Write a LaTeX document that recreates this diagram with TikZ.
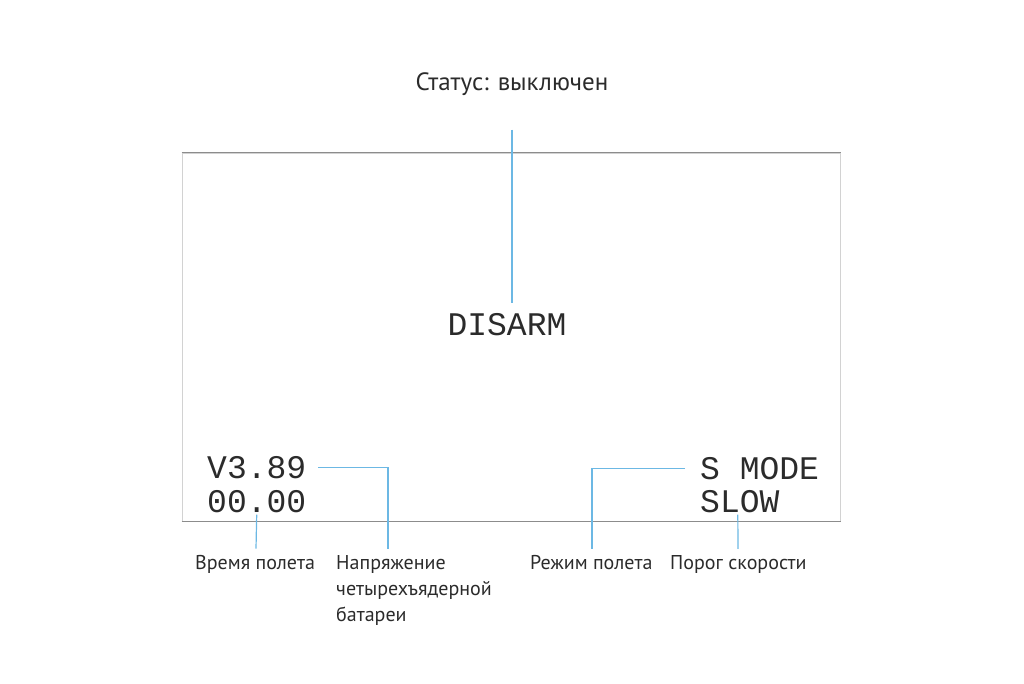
\documentclass[tikz,border=0pt]{standalone}
\usepackage{fontspec}
\setmainfont{PT Sans}
\newfontfamily\lcdfont{Liberation Mono}
\usetikzlibrary{positioning}
\definecolor{ciel}{HTML}{6CB8E4}
\definecolor{encre}{HTML}{2B2B2B}
\definecolor{cadre}{HTML}{8C8C8C}
\definecolor{cadreclair}{HTML}{D2D2D2}
\tikzset{
  ecran/.style={font=\lcdfont\fontsize{33}{33}\selectfont,text=encre,inner sep=0pt},
  legende/.style={font=\fontsize{20}{26}\selectfont,text=encre,inner sep=0pt,align=left},
  renvoi/.style={draw=ciel,line width=1.2pt},
}

\begin{document}
\begin{tikzpicture}[x=1pt,y=-1pt]
  \useasboundingbox (0,0) rectangle (1024,683);
  % cadre de l'afficheur
  \node[draw=cadreclair,line width=1pt,minimum width=658pt,minimum height=368pt,inner sep=0pt] (lcd) at (511,337) {};
  \draw[cadre,line width=1.6pt] (lcd.north west)--(lcd.north east);
  \draw[cadre,line width=1.6pt] (lcd.south west)--(lcd.south east);
  % textes de l'afficheur
  \node[ecran,anchor=base] (etat) at (507,335) {DISARM};
  \node[ecran,anchor=base west] (tension) at (207,478) {V3.89};
  \node[ecran,anchor=base west] (chrono) at (207,512) {00.00};
  \node[ecran,anchor=base west] (mode) at (700,479) {S MODE};
  \node[ecran,anchor=base west] (vitesse) at (700,512) {SLOW};
  % legendes
  \node[legende,font=\fontsize{25}{30}\selectfont] (lstatut) at (512,84) {Статус: выключен};
  \node[legende,anchor=base west] (lchrono) at (195,569) {Время полета};
  \node[legende,anchor=north west] (ltension) at (336,555) {Напряжение\\четырехъядерной\\батареи};
  \node[legende,anchor=base west] (lmode) at (530,569) {Режим полета};
  \node[legende,anchor=base west] (lvitesse) at (670,569) {Порог скорости};
  % renvois
  \draw[renvoi] ([yshift=-34pt]lstatut.south)--([yshift=10pt]lstatut.south |- etat.north);
  \draw[renvoi] ([xshift=12pt]tension.east)-|([xshift=52pt,yshift=6pt]ltension.north west);
  \draw[renvoi] ([yshift=-2pt]chrono.south)--([xshift=61pt,yshift=6pt]lchrono.north west);
  \draw[renvoi] ([xshift=-15pt]mode.west)-|([xshift=62pt,yshift=6pt]lmode.north west);
  \draw[renvoi] ([xshift=-2pt,yshift=-2pt]vitesse.south)--([xshift=68pt,yshift=6pt]lvitesse.north west);
\end{tikzpicture}
\end{document}
